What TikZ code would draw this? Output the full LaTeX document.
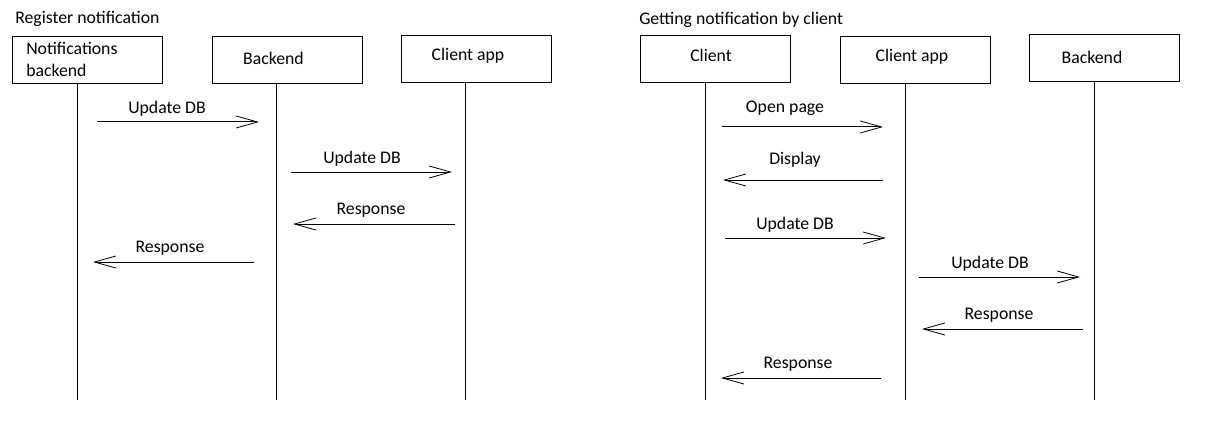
\documentclass[tikz,border=0pt]{standalone}
\usepackage{fontspec}
\setmainfont{Carlito}
\usetikzlibrary{arrows.meta}
\begin{document}
\begin{tikzpicture}[x=0.75pt,y=-0.75pt,
  lbl/.style={font=\fontsize{13.3}{16.5}\selectfont, inner sep=0pt},
  mlbl/.style={lbl, yshift=-1.5pt},
  actor/.style={draw, line width=0.75pt, minimum width=112.5pt, minimum height=35.25pt, inner sep=0pt},
  life/.style={line width=0.75pt},
  msg/.style={line width=0.75pt, -{Straight Barb[length=16pt,width=9pt,line width=0.6pt]}}]
\useasboundingbox (0,0) rectangle (1212,424);
% titles
\node[lbl, anchor=base west] (t1) at (15,24) {Register notification};
\node[lbl, anchor=base west] (t2) at (639,25) {Getting notification by client};
% left actors
\node[actor] (nb) at (87,60.5) {};
\node[lbl, anchor=west, align=left] (nbt) at (26,59) {Notifications\\backend};
\node[actor] (be) at (287,60.5) {};
\node[lbl] (bet) at (273.5,58) {Backend};
\node[actor] (ca) at (476,59.5) {};
\node[lbl] (cat) at (468,56) {Client app};
% right actors
\node[actor] (cl) at (715.5,59) {};
\node[lbl] (clt) at (711,55) {Client};
\node[actor] (ca2) at (915.5,60) {};
\node[lbl] (ca2t) at (912,57) {Client app};
\node[actor] (be2) at (1104,58.5) {};
\node[lbl] (be2t) at (1092,57) {Backend};
% lifelines
\coordinate (nbE) at (77,400);
\coordinate (beE) at (276,400);
\coordinate (caE) at (465,400);
\coordinate (clE) at (705,400);
\coordinate (ca2E) at (905,400);
\coordinate (be2E) at (1094,400);
\draw[life] (nb.south -| nbE) -- (nbE);
\draw[life] (be.south -| beE) -- (beE);
\draw[life] (ca.south -| caE) -- (caE);
\draw[life] (cl.south -| clE) -- (clE);
\draw[life] (ca2.south -| ca2E) -- (ca2E);
\draw[life] (be2.south -| be2E) -- (be2E);
% left messages
\coordinate (m1a) at (97,122); \coordinate (m1b) at (259,122);
\draw[msg] (m1a) -- (m1b);
\node[mlbl] (l1) at (167,107) {Update DB};
\coordinate (m2a) at (291,172); \coordinate (m2b) at (452,172);
\draw[msg] (m2a) -- (m2b);
\node[mlbl] (l2) at (362,157) {Update DB};
\coordinate (m3a) at (455,224); \coordinate (m3b) at (293,224);
\draw[msg] (m3a) -- (m3b);
\node[mlbl] (l3) at (371,208) {Response};
\coordinate (m4a) at (254,262); \coordinate (m4b) at (93,262);
\draw[msg] (m4a) -- (m4b);
\node[mlbl] (l4) at (170,246) {Response};
% right messages
\coordinate (r1a) at (722,127); \coordinate (r1b) at (883,127);
\draw[msg] (r1a) -- (r1b);
\node[mlbl] (q1) at (785,106) {Open page};
\coordinate (r2a) at (883,180); \coordinate (r2b) at (723,180);
\draw[msg] (r2a) -- (r2b);
\node[mlbl] (q2) at (795,158) {Display};
\coordinate (r3a) at (725,238); \coordinate (r3b) at (886,238);
\draw[msg] (r3a) -- (r3b);
\node[mlbl] (q3) at (795,223) {Update DB};
\coordinate (r4a) at (919,277); \coordinate (r4b) at (1080,277);
\draw[msg] (r4a) -- (r4b);
\node[mlbl] (q4) at (990,262) {Update DB};
\coordinate (r5a) at (1083,329); \coordinate (r5b) at (922,329);
\draw[msg] (r5a) -- (r5b);
\node[mlbl] (q5) at (999,313) {Response};
\coordinate (r6a) at (881,378); \coordinate (r6b) at (721,378);
\draw[msg] (r6a) -- (r6b);
\node[mlbl] (q6) at (798,362) {Response};
\end{tikzpicture}
\end{document}
